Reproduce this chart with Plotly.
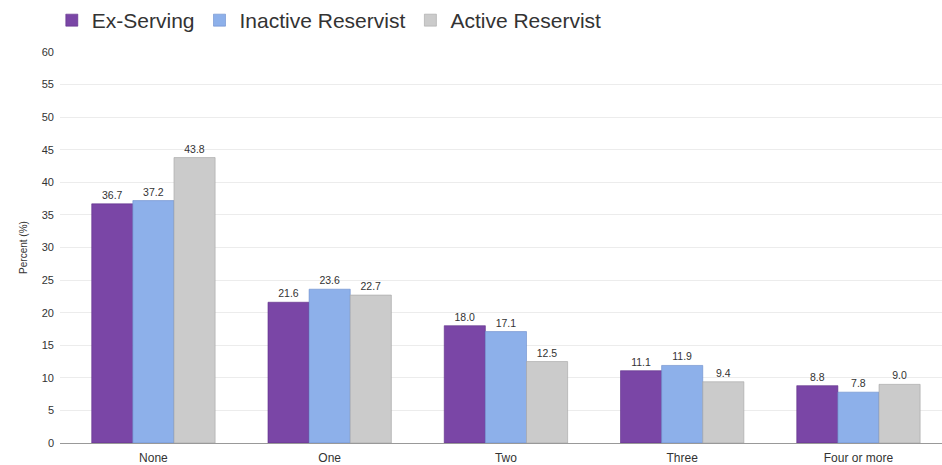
import plotly.graph_objects as go

categories = ["None", "One", "Two", "Three", "Four or more"]
series_names = ["Ex-Serving", "Inactive Reservist", "Active Reservist"]
ex_serving = [36.7, 21.6, 18.0, 11.1, 8.8]
inactive_reservist = [37.2, 23.6, 17.1, 11.9, 7.8]
active_reservist = [43.8, 22.7, 12.5, 9.4, 9.0]
y_ticks = [0, 5, 10, 15, 20, 25, 30, 35, 40, 45, 50, 55, 60]

colors = ["#7A46A6", "#8DB0EA", "#CBCBCB"]
line_colors = ["#5E2E88", "#6A8CCB", "#A5A5A5"]

fig = go.Figure()
for name, vals, c, lc in zip(series_names, [ex_serving, inactive_reservist, active_reservist], colors, line_colors):
    fig.add_trace(go.Bar(
        x=categories, y=vals, name=name,
        marker=dict(color=c, line=dict(color=lc, width=0.6)),
        text=[f"{v:.1f}" for v in vals], textposition="outside",
        textfont=dict(size=10.5, color="#333333", family="Liberation Sans, Arial, sans-serif"),
        cliponaxis=False,
    ))

fig.update_layout(
    width=942, height=465,
    margin=dict(l=60, r=0, t=52, b=22),
    paper_bgcolor="white", plot_bgcolor="white",
    barmode="group", bargap=0.30, bargroupgap=0,
    font=dict(family="Liberation Sans, Arial, sans-serif", color="#333333"),
    legend=dict(orientation="h", xref="container", yref="container",
                x=0.055, xanchor="left", y=1.0, yanchor="top",
                font=dict(size=21, color="#333333"), itemwidth=30,
                tracegroupgap=0, traceorder="normal", itemclick=False),
    showlegend=True,
    xaxis=dict(range=[-0.53, 4.474], showgrid=False, showline=True, linecolor="#999999",
               linewidth=1, ticks="", tickfont=dict(size=12, color="#333333"),
               ticklabelstandoff=4, automargin=False),
    yaxis=dict(range=[0, 60], tickvals=y_ticks, showgrid=True, gridcolor="#ECECEC",
               gridwidth=1, zeroline=False, tickfont=dict(size=11, color="#333333"),
               title=dict(text="Percent (%)", font=dict(size=10, color="#333333"), standoff=12),
               ticklabelstandoff=5, automargin=False),
)

fig.write_html("out.html", config={"displayModeBar": False},
               post_script="document.body.style.margin='0';document.body.style.padding='0';")
